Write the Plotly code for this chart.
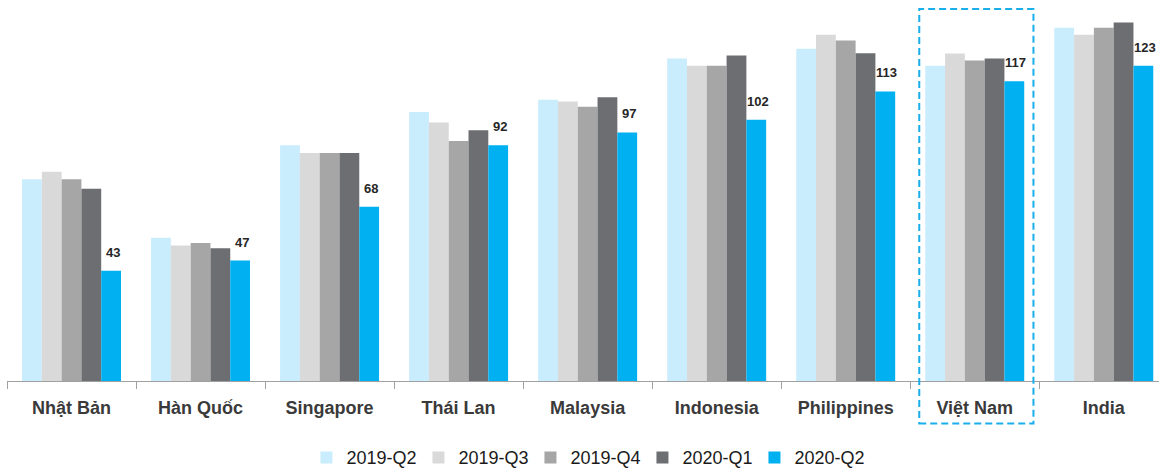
import plotly.graph_objects as go

categories = ["Nhật Bản", "Hàn Quốc", "Singapore", "Thái Lan", "Malaysia",
              "Indonesia", "Philippines", "Việt Nam", "India"]

q2_2019 = [78.7, 55.9, 92.0, 105.0, 109.8, 125.9, 129.7, 123.0, 137.9]
q3_2019 = [81.7, 52.9, 89.0, 100.9, 109.1, 123.0, 135.1, 127.8, 135.1]
q4_2019 = [78.7, 53.9, 89.0, 93.7, 107.0, 123.0, 132.9, 125.1, 137.9]
q1_2020 = [75.0, 51.8, 89.0, 97.9, 110.7, 127.0, 127.9, 125.9, 139.9]
q2_2020 = [43, 47, 68, 92, 97, 102, 113, 117, 123]

series_names = ["2019-Q2", "2019-Q3", "2019-Q4", "2020-Q1", "2020-Q2"]
series_values = [q2_2019, q3_2019, q4_2019, q1_2020, q2_2020]
series_colors = ["#C9EDFC", "#D9D9D9", "#A6A6A6", "#6D6E72", "#00B0F0"]

highlight = "Việt Nam"

FONT = "Liberation Sans, Arial, sans-serif"

fig = go.Figure()
for name, vals, col in zip(series_names, series_values, series_colors):
    fig.add_trace(go.Bar(
        x=categories, y=vals, name=name,
        marker=dict(color=col, line=dict(width=0)),
        hoverinfo="x+y+name",
    ))

# value labels on the last series only
annotations = []
for cat, v in zip(categories, q2_2020):
    annotations.append(dict(
        x=cat, y=v, xref="x", yref="y",
        text=f"<b>{v}</b>", showarrow=False,
        xanchor="center", yanchor="bottom",
        xshift=41, yshift=9,
        font=dict(family=FONT, size=13, color="#262626"),
    ))

hi = categories.index(highlight)
fig.add_shape(
    type="rect", xref="x", yref="paper",
    x0=hi - 0.43, x1=hi + 0.455, y0=-0.1115, y1=0.9764,
    line=dict(color="#1AAEEB", width=2, dash="7px,4px"),
    fillcolor="rgba(0,0,0,0)", layer="above",
)

fig.update_layout(
    width=1159, height=469,
    margin=dict(l=7, r=0, t=0, b=88, pad=0, autoexpand=False),
    paper_bgcolor="white", plot_bgcolor="white",
    barmode="group", bargap=0.233, bargroupgap=0,
    font=dict(family=FONT, color="#1a1a1a"),
    annotations=annotations,
    showlegend=True,
    legend=dict(
        orientation="h", x=0.503, xanchor="center",
        yref="container", y=0.024, yanchor="middle",
        font=dict(family=FONT, size=18, color="#1a1a1a"),
        itemwidth=30, tracegroupgap=0,
        entrywidth=67, entrywidthmode="pixels",
        bgcolor="rgba(0,0,0,0)",
    ),
    xaxis=dict(
        type="category", range=[-0.5, 8.428], automargin=False,
        showline=True, linecolor="#A0A0A0", linewidth=1,
        ticks="outside", tickson="boundaries", ticklen=7,
        tickcolor="#A0A0A0", tickwidth=1, ticklabelstandoff=10,
        tickfont=dict(family=FONT, size=18, color="#3A3A3A", weight="bold"),
        showgrid=False, zeroline=False, fixedrange=True,
    ),
    yaxis=dict(
        range=[0, 148.7], visible=False, showgrid=False, zeroline=False,
        fixedrange=True, automargin=False,
    ),
)

fig.write_html("out.html")
